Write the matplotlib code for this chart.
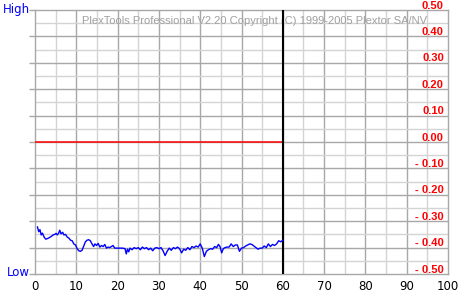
import matplotlib
matplotlib.use("Agg")
import matplotlib.pyplot as plt

# ---- data ----
pos = [0.6, 0.9, 1.2, 1.5, 1.8, 2.2, 2.6, 3.0, 3.5, 4.0, 4.4, 4.8, 5.1, 5.4, 5.7, 6.0, 6.3, 6.7, 7.0, 7.4,
       7.8, 8.2, 8.6, 9.0, 9.4, 9.8, 10.2, 10.6, 11.0, 11.4, 11.8, 12.2, 12.6, 13.0, 13.4, 13.8, 14.2, 14.5,
       14.9, 15.3, 15.7, 16.1, 16.5, 16.9, 17.3, 17.7, 18.1, 18.5, 18.9, 19.3, 19.8, 20.5, 21.2, 21.8, 22.1,
       22.4, 22.7, 23.0, 23.5, 24.0, 24.5, 25.0, 25.5, 26.0, 26.5, 27.0, 27.5, 28.0, 28.5, 29.0, 29.5, 30.0,
       30.5, 31.0, 31.5, 32.0, 32.5, 33.0, 33.5, 34.0, 34.5, 35.0, 35.5, 36.0, 36.5, 37.0, 37.5, 38.0, 38.5,
       39.0, 39.5, 40.0, 40.5, 41.0, 41.5, 42.0, 42.5, 43.0, 43.5, 44.0, 44.4, 44.8, 45.2, 45.6, 46.0, 46.5,
       47.0, 47.5, 48.0, 48.5, 49.0, 49.5, 50.0, 50.5, 51.0, 51.5, 52.0, 52.5, 53.0, 53.5, 54.0, 54.5, 55.0,
       55.5, 56.0, 56.5, 57.0, 57.5, 58.0, 58.5, 59.0, 59.5, 60.0]
vals = [-0.322, -0.340, -0.332, -0.352, -0.345, -0.360, -0.368, -0.366, -0.362, -0.357, -0.352, -0.350,
        -0.346, -0.352, -0.346, -0.334, -0.348, -0.342, -0.352, -0.350, -0.360, -0.364, -0.372, -0.374,
        -0.386, -0.390, -0.404, -0.412, -0.414, -0.410, -0.394, -0.378, -0.372, -0.370, -0.374, -0.386,
        -0.396, -0.386, -0.392, -0.384, -0.398, -0.392, -0.396, -0.388, -0.402, -0.398, -0.400, -0.396,
        -0.392, -0.402, -0.402, -0.402, -0.402, -0.404, -0.424, -0.406, -0.416, -0.402, -0.408, -0.400,
        -0.404, -0.400, -0.408, -0.398, -0.404, -0.400, -0.408, -0.402, -0.412, -0.402, -0.400, -0.404,
        -0.400, -0.412, -0.430, -0.414, -0.402, -0.410, -0.400, -0.404, -0.398, -0.404, -0.420, -0.406,
        -0.410, -0.400, -0.408, -0.396, -0.400, -0.394, -0.398, -0.386, -0.402, -0.434, -0.414, -0.408,
        -0.404, -0.406, -0.396, -0.400, -0.388, -0.396, -0.420, -0.404, -0.400, -0.398, -0.398, -0.386,
        -0.396, -0.390, -0.390, -0.414, -0.402, -0.400, -0.394, -0.390, -0.386, -0.388, -0.394, -0.400,
        -0.406, -0.402, -0.402, -0.394, -0.400, -0.386, -0.396, -0.388, -0.392, -0.386, -0.374, -0.378,
        -0.372]
x_ticks = [0, 10, 20, 30, 40, 50, 60, 70, 80, 90, 100]
y_ticks = [0.5, 0.4, 0.3, 0.2, 0.1, 0.0, -0.1, -0.2, -0.3, -0.4, -0.5]
y_labels = ["0.50", "0.40", "0.30", "0.20", "0.10", "0.00",
            "- 0.10", "- 0.20", "- 0.30", "- 0.40", "- 0.50"]
zero_level = 0.0
cursor_x = 60
title = "PlexTools Professional V2.20 Copyright (C) 1999-2005 Plextor SA/NV"

W, H = 467, 300
fig = plt.figure(figsize=(W / 100, H / 100), dpi=100)
L, R, T, B = 35, 448, 10, 274
ax = fig.add_axes([L / W, 1 - B / H, (R - L) / W, (B - T) / H])
ax.set_xlim(0, 100)
ax.set_ylim(-0.5, 0.5)

major = "#a8a8a8"
minor = "#d4d4d4"
for xv in range(5, 100, 10):
    ax.axvline(xv, color=minor, lw=1, zorder=1)
for xv in x_ticks[1:-1]:
    ax.axvline(xv, color=major, lw=1, zorder=1)
for k in range(10):
    yv = -0.45 + 0.1 * k
    ax.axhline(yv, color=minor, lw=1, zorder=1)
for yv in y_ticks[1:-1]:
    ax.axhline(yv, color=major, lw=1, zorder=1)
for s in ax.spines.values():
    s.set_color(major)
    s.set_linewidth(1)

ax.set_xticks(x_ticks)
ax.set_xticklabels([str(v) for v in x_ticks], fontsize=8.5, color="black")
ax.tick_params(axis="x", length=0, pad=4)
ax.set_yticks(y_ticks)
ax.set_yticklabels([])
ax.tick_params(axis="y", left=True, length=4, color=major, width=1)

# value labels on the right, inside the plot
for yv, lab in zip(y_ticks, y_labels):
    ax.text(99, yv + 0.005, lab, color="red", fontsize=8, fontweight="bold",
            family=["Liberation Sans Narrow", "Liberation Sans", "DejaVu Sans"],
            ha="right", va="baseline", zorder=5)

ax.text(11.5, 0.46, title, color="#a0a0a0", fontsize=8,
        family=["Liberation Sans", "DejaVu Sans"], ha="left", va="center", zorder=2)

fig.text(30 / W, 1 - 10 / H, "High", color="blue", fontsize=8.5, ha="right", va="center")
fig.text(30 / W, 1 - 273 / H, "Low", color="blue", fontsize=8.5, ha="right", va="center")

ax.plot([0, cursor_x], [zero_level, zero_level], color="red", lw=1.1, zorder=3)
ax.axvline(cursor_x, color="black", lw=1.5, zorder=4)
ax.plot(pos, vals, color="blue", lw=1, zorder=4)

fig.savefig("out.png", dpi=100)
